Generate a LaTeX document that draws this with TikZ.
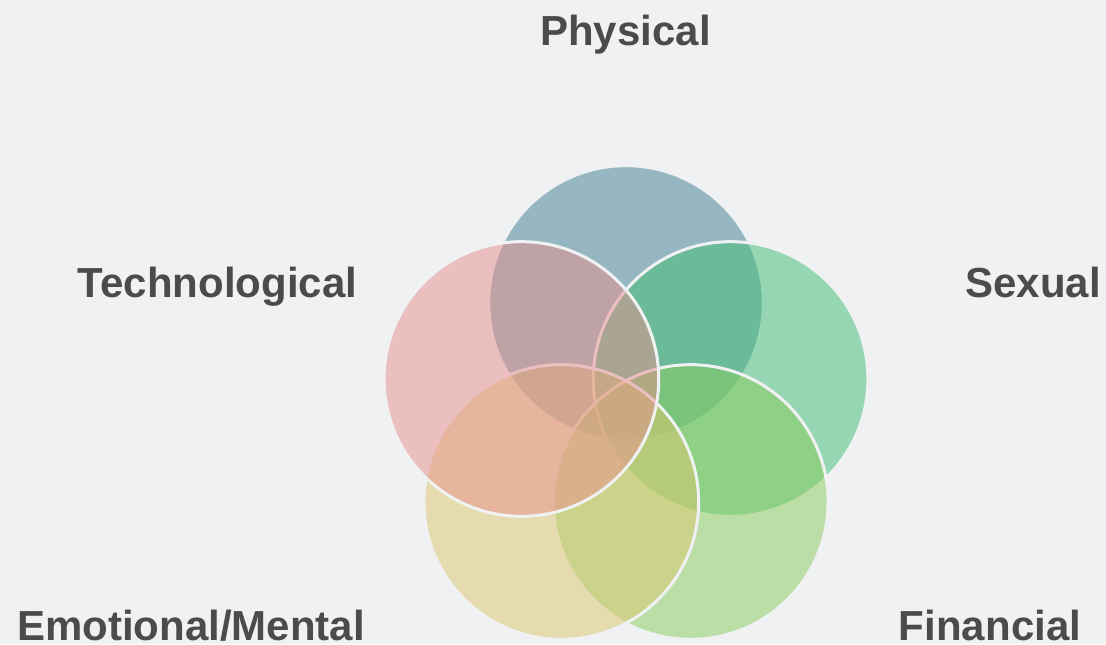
\documentclass[tikz,border=0pt]{standalone}
\usepackage{fontspec}
\setmainfont{Liberation Sans}
\definecolor{bgcol}{RGB}{239,241,243}
\definecolor{labelcol}{RGB}{75,75,75}
\definecolor{physcol}{RGB}{63,127,145}
\definecolor{sexcol}{RGB}{65,189,117}
\definecolor{fincol}{RGB}{135,205,91}
\definecolor{emocol}{RGB}{221,199,109}
\definecolor{techcol}{RGB}{233,143,141}
\tikzset{
  disc/.style={circle, minimum size=206pt, inner sep=0pt, outer sep=0pt,
    fill opacity=0.5, draw=bgcol, line width=2.25pt},
  lbl/.style={text=labelcol, anchor=base, font=\fontsize{31.5}{38}\selectfont\bfseries, inner sep=0pt}
}
\begin{document}
\begin{tikzpicture}[x=0.75pt, y=0.75pt]
  \fill[bgcol] (0,0) rectangle (1106,644);
  \useasboundingbox (0,0) rectangle (1106,644);

  % five overlapping circles on a pentagon, drawn clockwise from the top;
  % each outline is opaque in the background colour
  \node[disc, fill=physcol] (phys) at (626,341) {};
  \node[disc, fill=sexcol] (sex) at (730.6,265) {};
  \node[disc, fill=fincol] (fin) at (690.7,142) {};
  \node[disc, fill=emocol] (emo) at (561.3,142) {};
  \node[disc, fill=techcol] (tech) at (521.4,265) {};

  % labels
  \node[lbl] (lphys) at (625.5,598) {Physical};
  \node[lbl] (lsex) at (1033,347) {Sexual};
  \node[lbl] (ltech) at (217.5,347) {Technological};
  \node[lbl] (lemo) at (191,4) {Emotional/Mental};
  \node[lbl] (lfin) at (990,4) {Financial};
\end{tikzpicture}
\end{document}
